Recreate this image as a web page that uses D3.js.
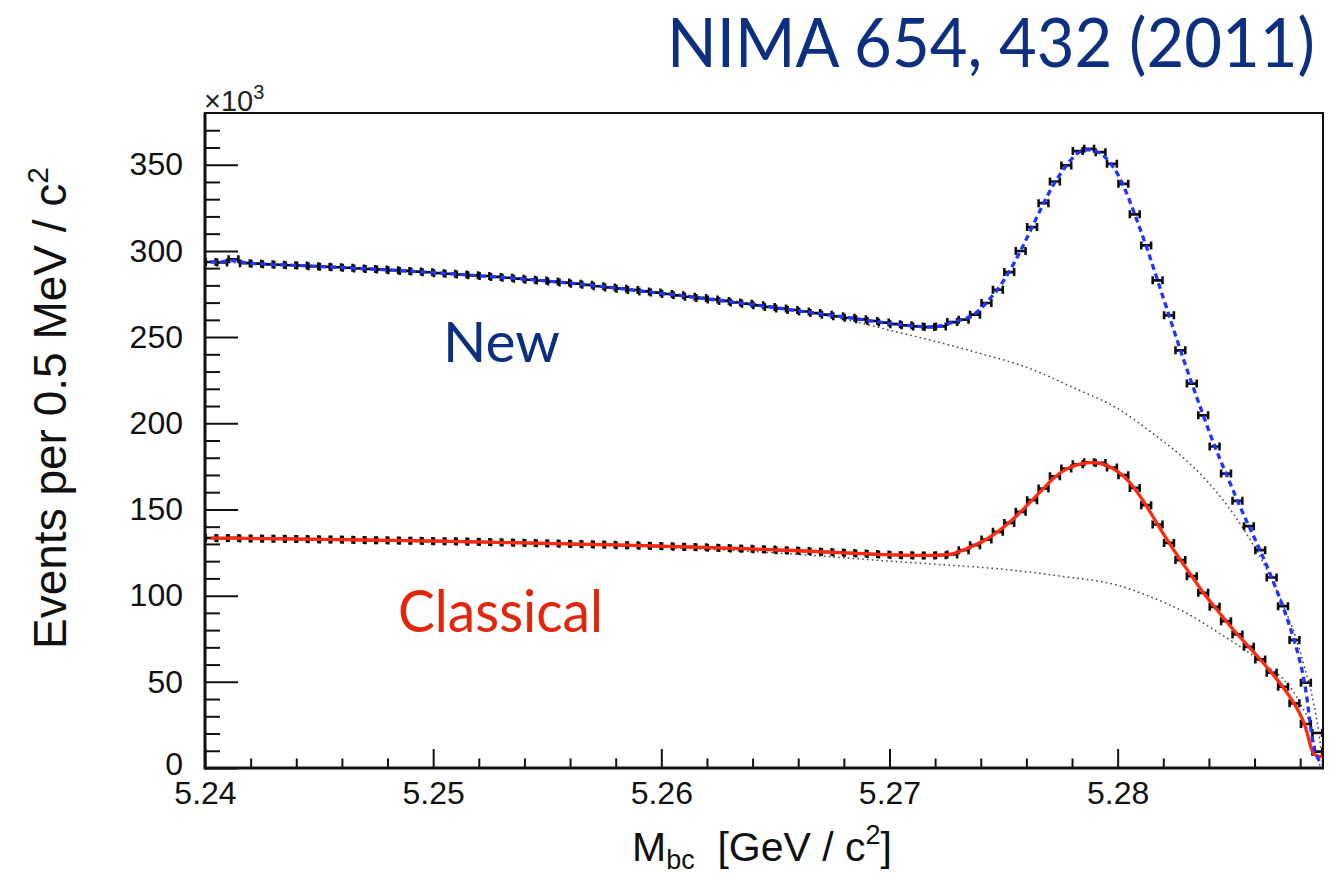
<!DOCTYPE html>
<html>
<head>
<meta charset="utf-8">
<script src="https://cdn.jsdelivr.net/npm/d3@7"></script>
<style>
  html, body { margin: 0; padding: 0; background: #fff; }
  svg { display: block; }
</style>
</head>
<body>
<svg id="chart" width="1342" height="874"></svg>
<script>
// Binning of the beam-constrained mass histogram (GeV/c^2)
const massLo = 5.24;
const binWidth = 0.0005;

// Events per bin (x10^3), new tagging
const newCounts = [
  293.6, 293.3, 295.1, 292.9, 292.6, 292.2, 292.0, 291.7, 291.5, 291.1,
  290.8, 290.5, 290.2, 289.8, 289.5, 289.2, 288.8, 288.4, 288.0, 287.6,
  287.1, 286.7, 286.3, 285.8, 285.4, 284.9, 284.4, 283.9, 283.3, 282.8,
  282.2, 281.6, 281.0, 280.3, 279.5, 278.8, 278.1, 277.3, 276.5, 275.8,
  275.0, 274.2, 273.4, 272.6, 271.8, 271.0, 270.1, 269.3, 268.4, 267.5,
  266.6, 265.7, 264.8, 263.9, 263.0, 262.1, 261.2, 260.3, 259.3, 258.4,
  257.5, 256.8, 256.2, 255.8, 256.2, 258.7, 260.1, 263.0, 269.8, 277.5,
  287.7, 299.9, 313.8, 327.7, 340.3, 349.6, 357.9, 359.2, 357.3, 350.5,
  338.9, 321.2, 303.2, 282.9, 262.6, 242.3, 223.0, 204.6, 186.5, 170.8,
  155.0, 140.3, 126.4, 110.5, 93.9, 74.2, 49.5, 20.3
];

// Events per bin (x10^3), classical tagging
const classicalCounts = [
  133.4, 133.3, 133.5, 133.2, 133.1, 133.0, 133.0, 132.9, 132.8, 132.7,
  132.6, 132.5, 132.4, 132.3, 132.2, 132.1, 132.0, 131.9, 131.8, 131.7,
  131.6, 131.5, 131.4, 131.2, 131.1, 130.9, 130.8, 130.7, 130.5, 130.4,
  130.2, 130.1, 129.9, 129.8, 129.6, 129.5, 129.3, 129.2, 129.0, 128.8,
  128.6, 128.4, 128.2, 128.0, 127.8, 127.6, 127.4, 127.2, 126.9, 126.7,
  126.4, 126.2, 125.9, 125.6, 125.3, 125.0, 124.7, 124.4, 124.1, 123.8,
  123.6, 123.4, 123.3, 123.3, 123.5, 123.9, 126.4, 129.3, 132.5, 137.0,
  142.2, 148.6, 155.4, 162.1, 169.3, 173.7, 176.2, 177.4, 177.0, 174.3,
  169.9, 162.5, 152.5, 141.3, 130.6, 120.6, 111.3, 101.6, 93.5, 85.2,
  77.5, 70.3, 63.0, 55.3, 47.1, 37.5, 25.5, 9.5
];

// Fit curves near the kinematic endpoint
const fitTailMass = [5.2885, 5.28875, 5.2890];
const newFitTail = [16, 5, 2];
const classicalFitTail = [8, 7, 6.5];

// Background (ARGUS) components
const newBkgMass = [5.2400, 5.2450, 5.2500, 5.2550, 5.2600, 5.2650, 5.2680, 5.2700, 5.2720, 5.2740,
                    5.2760, 5.2780, 5.2800, 5.2815, 5.2830, 5.2845, 5.2855, 5.2865, 5.2872, 5.2878,
                    5.2882, 5.2886, 5.2888, 5.2890];
const newBkg = [293.6, 291.5, 287.5, 282.5, 276.0, 267.5, 260.5, 254.0, 247.5, 240.4,
                232.5, 221.0, 208.5, 194.5, 178.5, 157.5, 139.0, 116.0, 96.0, 76.0,
                58.0, 37.0, 22.0, 0];
const classicalBkgMass = [5.2400, 5.2450, 5.2500, 5.2550, 5.2600, 5.2650, 5.2680, 5.2700, 5.2725, 5.2750,
                          5.2775, 5.2800, 5.2815, 5.2830, 5.2845, 5.2858, 5.2866, 5.2873, 5.2880,
                          5.2885, 5.2887, 5.2889];
const classicalBkg = [133.3, 132.5, 131.5, 130.0, 128.0, 124.8, 122.0, 120.0, 117.8, 115.3,
                      111.3, 106.0, 99.0, 90.0, 77.8, 66.5, 58.5, 51.0, 37.5,
                      22.0, 9.0, 0];

// Axis ticks
const xMajorTicks = [5.24, 5.25, 5.26, 5.27, 5.28];
const xMinorTicks = [5.242, 5.244, 5.246, 5.248, 5.252, 5.254, 5.256, 5.258,
                     5.262, 5.264, 5.266, 5.268, 5.272, 5.274, 5.276, 5.278,
                     5.282, 5.284, 5.286, 5.288];
const yMajorTicks = [0, 50, 100, 150, 200, 250, 300, 350];
const yMinorTicks = [10, 20, 30, 40, 60, 70, 80, 90, 110, 120, 130, 140, 160, 170, 180, 190,
                     210, 220, 230, 240, 260, 270, 280, 290, 310, 320, 330, 340, 360, 370];

const svg = d3.select("#chart");
const frame = { left: 205, right: 1323, top: 113, bottom: 768 };

const x = d3.scaleLinear().domain([5.24, 5.289]).range([frame.left, frame.right]);
const y = d3.scaleLinear().domain([0, 380]).range([frame.bottom, frame.top]);

const tickFont = "'Liberation Sans', Arial, Helvetica, sans-serif";

const defs = svg.append("defs");
defs.append("clipPath").attr("id", "plotClip")
  .append("rect").attr("x", frame.left).attr("y", frame.top)
  .attr("width", frame.right - frame.left).attr("height", frame.bottom - frame.top);
// soft edge on the data markers
defs.append("filter").attr("id", "soft")
  .attr("x", "-5%").attr("y", "-5%").attr("width", "110%").attr("height", "110%")
  .append("feGaussianBlur").attr("stdDeviation", 0.55);

const plot = svg.append("g").attr("clip-path", "url(#plotClip)");

// Background components
const bkgLine = (mass) => d3.line()
  .x((d, i) => x(mass[i]))
  .y(d => y(d))
  .curve(d3.curveMonotoneX);

plot.append("path").datum(newBkg)
  .attr("d", bkgLine(newBkgMass))
  .attr("fill", "none").attr("stroke", "#444").attr("stroke-width", 1.5)
  .attr("stroke-dasharray", "1.6,3.2");
plot.append("path").datum(classicalBkg)
  .attr("d", bkgLine(classicalBkgMass))
  .attr("fill", "none").attr("stroke", "#444").attr("stroke-width", 1.5)
  .attr("stroke-dasharray", "1.6,3.2");

// Data points with bin-width error bars
function drawMarkers(counts) {
  plot.append("g")
    .attr("filter", "url(#soft)")
    .selectAll("path")
    .data(counts)
    .join("path")
    .attr("d", (v, i) => {
      const x0 = x(massLo + i * binWidth) + 0.8;
      const x1 = x(massLo + (i + 1) * binWidth) - 0.8;
      const yy = y(v);
      return `M${x0},${yy}H${x1}M${x0},${yy - 4}V${yy + 4}M${x1},${yy - 4}V${yy + 4}`;
    })
    .attr("fill", "none")
    .attr("stroke", "#111")
    .attr("stroke-width", 2.6);
}
drawMarkers(newCounts);
drawMarkers(classicalCounts);

// Fit curves: bin centres up to the endpoint region, then the tail
function fitPoints(counts, tail) {
  const pts = counts.slice(0, counts.length - 1)
    .map((v, i) => [massLo + (i + 0.5) * binWidth, v]);
  tail.forEach((v, i) => pts.push([fitTailMass[i], v]));
  return pts;
}
const fitLine = d3.line()
  .x(d => x(d[0]))
  .y(d => y(d[1]))
  .curve(d3.curveBasis);

plot.append("path").datum(fitPoints(classicalCounts, classicalFitTail))
  .attr("d", fitLine)
  .attr("fill", "none").attr("stroke", "#ff2a10").attr("stroke-width", 3.3)
  .attr("stroke-linejoin", "round");
plot.append("path").datum(fitPoints(newCounts, newFitTail))
  .attr("d", fitLine)
  .attr("fill", "none").attr("stroke", "#1f35ff").attr("stroke-width", 3.3)
  .attr("stroke-dasharray", "6,4");

// Axes (ticks pointing into the frame)
const axisStyle = g => {
  g.select(".domain").remove();
  g.selectAll(".tick line").attr("stroke", "#111").attr("stroke-width", 2);
  g.selectAll(".tick text").attr("fill", "#111")
    .style("font-family", tickFont).style("font-size", "32px");
};

svg.append("g").attr("transform", `translate(0,${frame.bottom})`)
  .call(d3.axisBottom(x).tickValues(xMinorTicks).tickSizeInner(-9.5).tickSizeOuter(0).tickFormat(""))
  .call(axisStyle);
svg.append("g").attr("transform", `translate(0,${frame.bottom})`)
  .call(d3.axisBottom(x).tickValues(xMajorTicks).tickSizeInner(-19).tickSizeOuter(0)
        .tickPadding(13).tickFormat(d3.format(".2f")))
  .call(axisStyle);

svg.append("g").attr("transform", `translate(${frame.left},0)`)
  .call(d3.axisLeft(y).tickValues(yMinorTicks).tickSizeInner(-15).tickSizeOuter(0).tickFormat(""))
  .call(axisStyle);
const yMajor = svg.append("g").attr("transform", `translate(${frame.left},0)`)
  .call(d3.axisLeft(y).tickValues(yMajorTicks).tickSizeInner(-33).tickSizeOuter(0)
        .tickPadding(22).tickFormat(d3.format("d")))
  .call(axisStyle);
// lift the zero label clear of the first mass label
yMajor.selectAll(".tick text").filter(d => d === 0).attr("y", -4);

// Frame
svg.append("rect").attr("x", frame.left).attr("y", frame.top)
  .attr("width", frame.right - frame.left).attr("height", frame.bottom - frame.top)
  .attr("fill", "none").attr("stroke", "#111").attr("stroke-width", 2);
svg.append("line").attr("x1", frame.left).attr("x2", frame.left)
  .attr("y1", frame.top).attr("y2", frame.bottom + 1.5)
  .attr("stroke", "#111").attr("stroke-width", 3);
svg.append("line").attr("x1", frame.left).attr("x2", frame.right + 1)
  .attr("y1", frame.bottom).attr("y2", frame.bottom)
  .attr("stroke", "#111").attr("stroke-width", 3);

// Exponent label
const expo = svg.append("text").attr("x", 204).attr("y", 111)
  .style("font-family", tickFont).style("font-size", "29px").attr("fill", "#222");
expo.append("tspan").text("×10");
expo.append("tspan").attr("dy", -12).style("font-size", "20px").text("3");

// Axis titles
const xTitle = svg.append("text").attr("x", 632).attr("y", 861)
  .style("font-family", tickFont).style("font-size", "41px").attr("fill", "#111")
  .attr("xml:space", "preserve");
xTitle.append("tspan").text("M");
xTitle.append("tspan").attr("dy", 8).style("font-size", "27px").text("bc");
xTitle.append("tspan").attr("dy", -8).text("  [GeV / c");
xTitle.append("tspan").attr("dy", -17).style("font-size", "27px").text("2");
xTitle.append("tspan").attr("dy", 17).text("]");

const yTitle = svg.append("text")
  .attr("transform", "translate(66,408) rotate(-90)")
  .attr("text-anchor", "middle")
  .style("font-family", tickFont).style("font-size", "46px").attr("fill", "#111");
yTitle.append("tspan").text("Events per 0.5 MeV / c");
yTitle.append("tspan").attr("dy", -18).style("font-size", "30px").text("2");

// Annotations
const annFont = "'Lato', 'Open Sans', sans-serif";
svg.append("text").attr("x", 667).attr("y", 67)
  .attr("textLength", 648).attr("lengthAdjust", "spacingAndGlyphs")
  .style("font-family", annFont).style("font-size", "68px").attr("fill", "#0d2f7f")
  .text("NIMA 654, 432 (2011)");
svg.append("text").attr("x", 443).attr("y", 362)
  .attr("textLength", 117).attr("lengthAdjust", "spacingAndGlyphs")
  .style("font-family", annFont).style("font-size", "56px").attr("fill", "#0d2f7f")
  .text("New");
svg.append("text").attr("x", 398).attr("y", 632)
  .attr("textLength", 205).attr("lengthAdjust", "spacingAndGlyphs")
  .style("font-family", annFont).style("font-size", "58px").attr("fill", "#e2260e")
  .text("Classical");
</script>
</body>
</html>
